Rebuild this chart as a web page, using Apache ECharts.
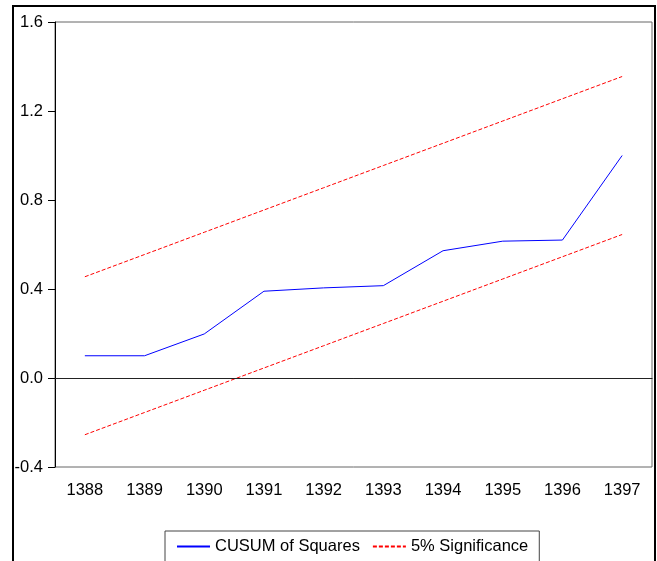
<!DOCTYPE html>
<html>
<head>
<meta charset="utf-8">
<script src="https://cdn.jsdelivr.net/npm/echarts@6/dist/echarts.min.js"></script>
<style>
  html, body { margin: 0; padding: 0; background: #fff; }
  #chart { width: 657px; height: 561px; }
</style>
</head>
<body>
<div id="chart"></div>
<script>
// years on the x axis
const years = ['1388', '1389', '1390', '1391', '1392', '1393', '1394', '1395', '1396', '1397']
// CUSUM of squares statistic
const cusumSq = [0.10, 0.10, 0.198, 0.39, 0.405, 0.415, 0.572, 0.615, 0.62, 1.0]
// 5% significance bounds
const upperBound = [0.455, 0.555, 0.655, 0.755, 0.855, 0.955, 1.055, 1.155, 1.255, 1.355]
const lowerBound = [-0.255, -0.155, -0.055, 0.045, 0.145, 0.245, 0.345, 0.445, 0.545, 0.645]

const font = '"Liberation Sans", Arial, sans-serif'
const chart = echarts.init(document.getElementById('chart'))

chart.setOption({
  animation: false,
  textStyle: { fontFamily: font },
  grid: { left: 55, top: 22, right: 5, bottom: 94, show: true, borderColor: '#666', borderWidth: 1 },
  graphic: [{
    type: 'rect', silent: true, z: 100,
    shape: { x: 13, y: 6, width: 642, height: 570 },
    style: { fill: 'none', stroke: '#000', lineWidth: 2 }
  }],
  legend: {
    left: 165, top: 531,
    padding: [7, 11, 10, 11],
    borderColor: '#444', borderWidth: 1,
    itemWidth: 33, itemHeight: 10, itemGap: 12,
    itemStyle: { opacity: 0 },
    textStyle: { fontSize: 16.5, color: '#000', fontFamily: font },
    data: ['CUSUM of Squares', '5% Significance']
  },
  xAxis: {
    type: 'category', data: years, boundaryGap: true,
    axisLine: { lineStyle: { color: '#000', width: 1 } },
    axisTick: { length: 9, lineStyle: { color: '#000' } },
    axisLabel: { color: '#000', fontSize: 16.5, margin: 15 }
  },
  yAxis: {
    type: 'value', min: -0.4, max: 1.6, interval: 0.4,
    axisLine: { show: true, lineStyle: { color: '#000', width: 1 } },
    axisTick: { show: true, length: 7, lineStyle: { color: '#000' } },
    axisLabel: { color: '#000', fontSize: 16.5, margin: 12, formatter: v => v.toFixed(1) },
    splitLine: { show: false }
  },
  series: [
    {
      name: 'CUSUM of Squares', type: 'line', data: cusumSq, symbol: 'none',
      lineStyle: { color: '#0000ff', width: 1 }, itemStyle: { color: '#0000ff' },
      markLine: {
        silent: true, symbol: 'none', label: { show: false },
        lineStyle: { color: '#222', type: 'solid', width: 1 },
        data: [{ yAxis: 0 }]
      }
    },
    {
      name: '5% Significance', type: 'line', data: upperBound, symbol: 'none',
      lineStyle: { color: '#ff0000', width: 1, type: [4, 2] }, itemStyle: { color: '#ff0000' }
    },
    {
      name: '5% Significance', type: 'line', data: lowerBound, symbol: 'none',
      lineStyle: { color: '#ff0000', width: 1, type: [4, 2] }, itemStyle: { color: '#ff0000' }
    }
  ]
})
</script>
</body>
</html>
